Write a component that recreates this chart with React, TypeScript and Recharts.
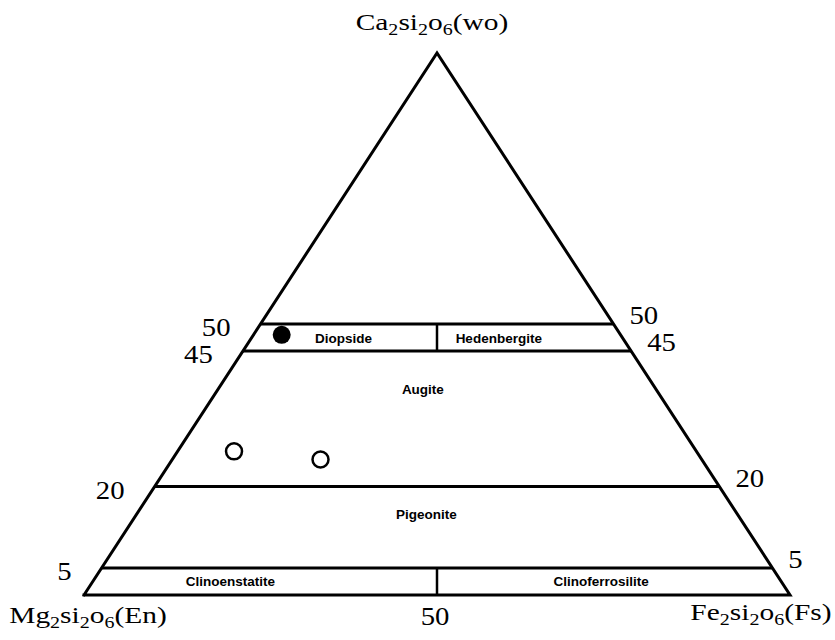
import React from "react";
import { ScatterChart, Scatter, XAxis, YAxis, ReferenceLine } from "recharts";

// ternary corners, given as (Wo, Fs); En = 100 - Wo - Fs
const cornerNames = ["Ca2si2o6(wo)", "Mg2si2o6(En)", "Fe2si2o6(Fs)"];
const cornerWo = [100, 0, 0];
const cornerFs = [0, 0, 100];

// Wo levels of the horizontal field boundaries (also the side tick labels)
const boundaryWo = [50, 45, 20, 5];

// En = Fs dividers, each running from one Wo level to another
const dividerFrom = [45, 0];
const dividerTo = [50, 5];

// tick label on the base (Fs %)
const baseTickFs = [50];

// field names and where they sit
const fieldNames = ["Diopside", "Hedenbergite", "Augite", "Pigeonite", "Clinoenstatite", "Clinoferrosilite"];
const fieldWo = [47.5, 47.5, 38, 15, 2.5, 2.5];
const fieldFs = [13, 35, 29, 41, 19.5, 72];

// analysed pyroxenes
const filledWo = [48];
const filledFs = [4];
const openWo = [26.5, 25];
const openFs = [8, 21];

const toXY = (wo: number, fs: number) => ({ x: fs + wo / 2, y: wo });

const SERIF = '"Liberation Serif", "DejaVu Serif", serif';
const SANS = '"Liberation Sans", Arial, sans-serif';

const triangle = [1, 0, 2, 1].map((i) => toXY(cornerWo[i], cornerFs[i]));
const corners = cornerNames.map((name, i) => ({ ...toXY(cornerWo[i], cornerFs[i]), name, idx: i }));
const leftTicks = boundaryWo.map((w) => ({ ...toXY(w, 0), label: String(w) }));
const rightTicks = boundaryWo.map((w) => ({ ...toXY(w, 100 - w), label: String(w) }));
const baseTicks = baseTickFs.map((f) => ({ ...toXY(0, f), label: String(f) }));
const fields = fieldNames.map((name, i) => ({ ...toXY(fieldWo[i], fieldFs[i]), name }));
const filled = filledWo.map((w, i) => toXY(w, filledFs[i]));
const open = openWo.map((w, i) => toXY(w, openFs[i]));

function Formula({ text, x, y, size, stretch }: { text: string; x: number; y: number; size: number; stretch: number }) {
  const parts = text.split(/(\d)/).filter(Boolean);
  let sub = false;
  return (
    <g transform={`translate(${x},${y}) scale(${stretch},1)`}>
      <text x={0} y={0} textAnchor="middle" fontFamily={SERIF} fontSize={size} fill="#000">
        {parts.map((p, i) => {
          const isDigit = /\d/.test(p);
          const dy = isDigit ? 5 : sub ? -5 : 0;
          sub = isDigit;
          return (
            <tspan key={i} dy={dy} fontSize={isDigit ? size * 0.68 : size}>
              {p}
            </tspan>
          );
        })}
      </text>
    </g>
  );
}

function Num({ x, y, text, anchor }: { x: number; y: number; text: string; anchor: "start" | "middle" | "end" }) {
  return (
    <g transform={`translate(${x},${y}) scale(1.15,1)`}>
      <text x={0} y={0} textAnchor={anchor} fontFamily={SERIF} fontSize={25} fill="#000">
        {text}
      </text>
    </g>
  );
}

// offsets of the corner names from their corners
const cornerDx = [-5, 4, -29];
const cornerDy = [-23, 28, 25];

const renderCorner = (p: any) => (
  <Formula
    text={p.payload.name}
    x={p.cx + cornerDx[p.payload.idx]}
    y={p.cy + cornerDy[p.payload.idx]}
    size={23}
    stretch={1.28}
  />
);
const renderLeftTick = (p: any) => <Num x={p.cx - 30} y={p.cy + 12} text={p.payload.label} anchor="end" />;
const renderRightTick = (p: any) => <Num x={p.cx + 16} y={p.cy} text={p.payload.label} anchor="start" />;
const renderBaseTick = (p: any) => <Num x={p.cx - 2} y={p.cy + 30} text={p.payload.label} anchor="middle" />;
const renderField = (p: any) => (
  <text x={p.cx} y={p.cy + 5} textAnchor="middle" fontFamily={SANS} fontWeight="bold" fontSize={13.5} fill="#000">
    {p.payload.name}
  </text>
);
const renderFilled = (p: any) => <circle cx={p.cx} cy={p.cy} r={9} fill="#000" />;
const renderOpen = (p: any) => <circle cx={p.cx} cy={p.cy} r={8} fill="#fff" stroke="#000" strokeWidth={2.5} />;
const renderNone = () => <g />;

export default function App() {
  return (
    <div style={{ position: "absolute", left: 0, top: 0, width: 835, height: 640, background: "#fff" }}>
      <ScatterChart width={835} height={640} margin={{ top: 53, right: 45, bottom: 45, left: 84 }}>
        <XAxis type="number" dataKey="x" domain={[0, 100]} hide />
        <YAxis type="number" dataKey="y" domain={[0, 100]} hide />

        {/* outline of the ternary */}
        <Scatter
          data={triangle}
          shape={renderNone}
          line={{ stroke: "#000", strokeWidth: 3, strokeLinejoin: "miter", strokeLinecap: "square" }}
          isAnimationActive={false}
        />

        {boundaryWo.map((w) => (
          <ReferenceLine
            key={`b${w}`}
            segment={[toXY(w, 0), toXY(w, 100 - w)]}
            stroke="#000"
            strokeWidth={3}
            ifOverflow="visible"
          />
        ))}
        {dividerFrom.map((w, i) => (
          <ReferenceLine
            key={`d${i}`}
            segment={[toXY(w, (100 - w) / 2), toXY(dividerTo[i], (100 - dividerTo[i]) / 2)]}
            stroke="#000"
            strokeWidth={2.5}
            ifOverflow="visible"
          />
        ))}

        <Scatter data={corners} shape={renderCorner} isAnimationActive={false} />
        <Scatter data={leftTicks} shape={renderLeftTick} isAnimationActive={false} />
        <Scatter data={rightTicks} shape={renderRightTick} isAnimationActive={false} />
        <Scatter data={baseTicks} shape={renderBaseTick} isAnimationActive={false} />
        <Scatter data={fields} shape={renderField} isAnimationActive={false} />

        <Scatter data={filled} shape={renderFilled} isAnimationActive={false} />
        <Scatter data={open} shape={renderOpen} isAnimationActive={false} />
      </ScatterChart>
    </div>
  );
}
